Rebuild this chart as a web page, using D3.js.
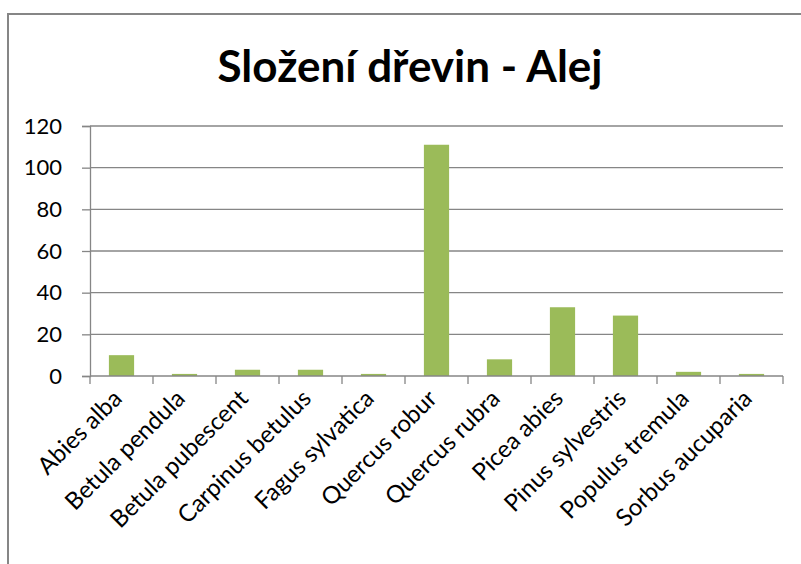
<!DOCTYPE html>
<html>
<head>
<meta charset="utf-8">
<script src="https://cdn.jsdelivr.net/npm/d3@7"></script>
<style>
  body { margin: 0; background: #fff; }
  text { font-family: Lato, "Open Sans", sans-serif; }
</style>
</head>
<body>
<div id="chart"></div>
<script>
// data
const species = ["Abies alba", "Betula pendula", "Betula pubescent", "Carpinus betulus",
  "Fagus sylvatica", "Quercus robur", "Quercus rubra", "Picea abies",
  "Pinus sylvestris", "Populus tremula", "Sorbus aucuparia"];
const counts = [10, 1, 3, 3, 1, 111, 8, 33, 29, 2, 1];
const yTicks = [0, 20, 40, 60, 80, 100, 120];

const width = 801, height = 564;
const margin = { top: 126, right: 18, bottom: 188, left: 90 };

const svg = d3.select("#chart").append("svg")
  .attr("width", width)
  .attr("height", height);

// chart frame, runs off the right and bottom edge like the screenshot
svg.append("rect")
  .attr("x", 8).attr("y", 14)
  .attr("width", width + 20).attr("height", height + 20)
  .attr("fill", "#fff")
  .attr("stroke", "#868686")
  .attr("stroke-width", 2);

svg.append("text")
  .attr("x", 410).attr("y", 82)
  .attr("text-anchor", "middle")
  .style("font-size", "44px")
  .style("font-weight", "bold")
  .text("Složení dřevin - Alej");

const x = d3.scaleBand()
  .domain(species)
  .range([margin.left, width - margin.right])
  .paddingInner(0.6)
  .paddingOuter(0.3);

const y = d3.scaleLinear()
  .domain([0, 120])
  .range([height - margin.bottom, margin.top]);

// gridlines
svg.append("g")
  .selectAll("line")
  .data(yTicks.filter(d => d > 0))
  .enter()
  .append("line")
  .attr("x1", margin.left).attr("x2", width - margin.right)
  .attr("y1", d => y(d)).attr("y2", d => y(d))
  .attr("stroke", "#868686")
  .attr("stroke-width", 1.3);

// y axis
const yAxis = svg.append("g")
  .attr("transform", "translate(" + margin.left + ",0)")
  .call(d3.axisLeft(y).tickValues(yTicks).tickSize(8).tickPadding(20));
yAxis.select(".domain").attr("stroke", "#868686").attr("stroke-width", 1.3);
yAxis.selectAll(".tick line").attr("stroke", "#868686").attr("stroke-width", 1.3);
yAxis.selectAll("text")
  .style("font-size", "22px")
  .attr("fill", "#000")
  .style("font-family", "Lato, sans-serif");

// bars
svg.append("g")
  .selectAll("rect")
  .data(species)
  .enter()
  .append("rect")
  .attr("x", d => x(d))
  .attr("width", x.bandwidth())
  .attr("y", (d, i) => y(counts[i]))
  .attr("height", (d, i) => y(0) - y(counts[i]))
  .attr("fill", "#9bbb59");

// x axis: ticks sit on the band boundaries
const bounds = d3.range(species.length + 1).map(i => margin.left + i * x.step());
const xAxis = svg.append("g");
xAxis.append("line")
  .attr("x1", margin.left).attr("x2", width - margin.right)
  .attr("y1", y(0)).attr("y2", y(0))
  .attr("stroke", "#868686")
  .attr("stroke-width", 1.3);
xAxis.selectAll(".tk")
  .data(bounds)
  .enter()
  .append("line")
  .attr("class", "tk")
  .attr("x1", d => d).attr("x2", d => d)
  .attr("y1", y(0)).attr("y2", y(0) + 8)
  .attr("stroke", "#868686")
  .attr("stroke-width", 1.3);

xAxis.selectAll("text")
  .data(species)
  .enter()
  .append("text")
  .attr("transform", d => "translate(" + (x(d) + x.bandwidth() / 2 + 2) + "," + (y(0) + 24) + ") rotate(-45)")
  .attr("text-anchor", "end")
  .style("font-size", "24px")
  .text(d => d);
</script>
</body>
</html>
